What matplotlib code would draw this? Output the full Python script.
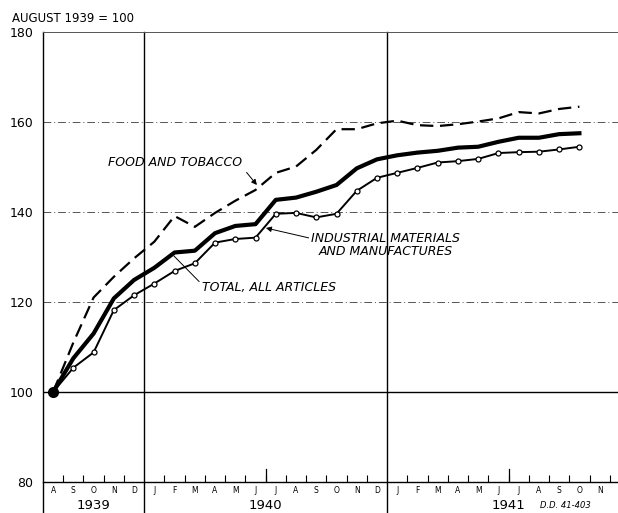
"""Wholesale price indexes, August 1939 = 100."""
import matplotlib
matplotlib.use('Agg')
from matplotlib import pyplot as plt

# Month letters, Aug 1939 .. Dec 1941
month_letters = ['A', 'S', 'O', 'N', 'D'] + list('JFMAMJJASOND') * 2
years = ['1939', '1940', '1941']

# Monthly index values, Aug 1939 .. Oct 1941
food_tobacco = [100, 111, 121, 125.6, 129.7,
                133.4, 139.1, 136.7, 139.8, 142.5, 144.9, 148.7, 150.1, 153.8, 158.4, 158.4, 159.7,
                160.3, 159.3, 159.1, 159.5, 160.1, 160.8, 162.2, 161.9, 162.9, 163.4]
total_all = [100, 107.5, 113.0, 120.8, 124.9,
             127.6, 131.0, 131.4, 135.3, 136.9, 137.3, 142.7, 143.2, 144.5, 146.0, 149.7, 151.7,
             152.6, 153.2, 153.6, 154.3, 154.5, 155.6, 156.5, 156.5, 157.3, 157.5]
industrial = [100, 105.4, 108.8, 118.2, 121.5,
              124.1, 126.9, 128.6, 133.2, 134.0, 134.3, 139.6, 139.8, 138.8, 139.6, 144.7, 147.6,
              148.7, 149.8, 151.0, 151.3, 151.8, 153.1, 153.3, 153.4, 153.9, 154.5]

x = [i + 0.5 for i in range(len(total_all))]

fig = plt.figure(figsize=(6.18, 5.13), dpi=100)
ax = fig.add_axes([43 / 618, 31 / 513, 587 / 618, 450 / 513])
ax.set_xlim(0, 29)
ax.set_ylim(80, 180)

# grid
for g in (120, 140, 160):
    ax.axhline(g, color='#555555', lw=0.7, ls=(0, (8, 3, 1, 3)), zorder=1)
ax.axhline(100, color='black', lw=1.0, zorder=1)
for b in (5, 17):
    ax.axvline(b, ymin=-0.07, ymax=1, color='black', lw=1.0, clip_on=False, zorder=1)
ax.axvline(0, ymin=-0.07, ymax=1, color='black', lw=1.0, clip_on=False, zorder=1)

# series
ax.plot(x, food_tobacco, color='black', lw=1.6, ls=(0, (6, 3)), zorder=3)
ax.plot(x, total_all, color='black', lw=3.0, solid_joinstyle='round', zorder=4)
ax.plot(x, industrial, color='black', lw=1.4, marker='o', markersize=3.6,
        markerfacecolor='white', markeredgecolor='black', markeredgewidth=0.9, zorder=5)
ax.plot([x[0]], [100], 'o', color='black', markersize=7, zorder=6)

# spines
for s in ('left', 'right'):
    ax.spines[s].set_visible(False)
ax.spines['top'].set_color('#555555')
ax.spines['top'].set_linewidth(0.7)
ax.spines['bottom'].set_linewidth(1.0)

# ticks
ax.set_yticks([80, 100, 120, 140, 160, 180])
ax.set_yticklabels(['80', '100', '120', '140', '160', '180'], fontsize=9)
ax.tick_params(axis='y', length=0, pad=7)

bounds = [b for b in range(1, 29) if b not in (5, 17)]
ax.set_xticks(bounds)
ax.set_xticklabels([])
ax.tick_params(axis='x', which='major', direction='in', length=5, width=0.8)
ax.set_xticks([i + 0.5 for i in range(len(month_letters))], minor=True)
ax.set_xticklabels(month_letters, minor=True, fontsize=5.5)
ax.tick_params(axis='x', which='minor', length=0, pad=3)
for b in (11, 23):
    ax.plot([b, b], [80, 83], color='black', lw=0.9, zorder=2)

for yr, xc in zip(years, (2.5, 11, 23)):
    ax.text(xc, 80 - 5.3, yr, ha='center', va='center', fontsize=9.5, clip_on=False)
ax.text(25.8, 80 - 5.3, 'D.D. 41-403', ha='center', va='center', fontsize=6,
        style='italic', clip_on=False)

fig.text(12 / 618, 1 - 18 / 513, 'AUGUST 1939 = 100', ha='left', va='center', fontsize=8.5)


def px(xp, yp):
    return ((xp - 43) / 20.25, 180 - (yp - 32) / 4.5)


# annotations
ax.annotate('FOOD AND TOBACCO', xy=px(257, 185), xytext=px(175, 163),
            ha='center', va='center', fontsize=9, style='italic',
            arrowprops=dict(arrowstyle='-|>', color='black', lw=0.7,
                            mutation_scale=8, shrinkA=2, shrinkB=0,
                            relpos=(1.0, 0.2)))
ax.annotate('TOTAL, ALL ARTICLES', xy=px(174, 256), xytext=px(202, 287),
            ha='left', va='center', fontsize=9, style='italic',
            arrowprops=dict(arrowstyle='-', color='black', lw=0.7,
                            shrinkA=0, shrinkB=0, relpos=(0.0, 0.7)))
ax.annotate('INDUSTRIAL MATERIALS\nAND MANUFACTURES', xy=px(266, 228), xytext=px(386, 245),
            ha='center', va='center', fontsize=9, style='italic', linespacing=1.0,
            arrowprops=dict(arrowstyle='-|>', color='black', lw=0.7,
                            mutation_scale=8, shrinkA=0, shrinkB=0,
                            relpos=(0.0, 0.75)))

fig.savefig('out.png', dpi=100)
